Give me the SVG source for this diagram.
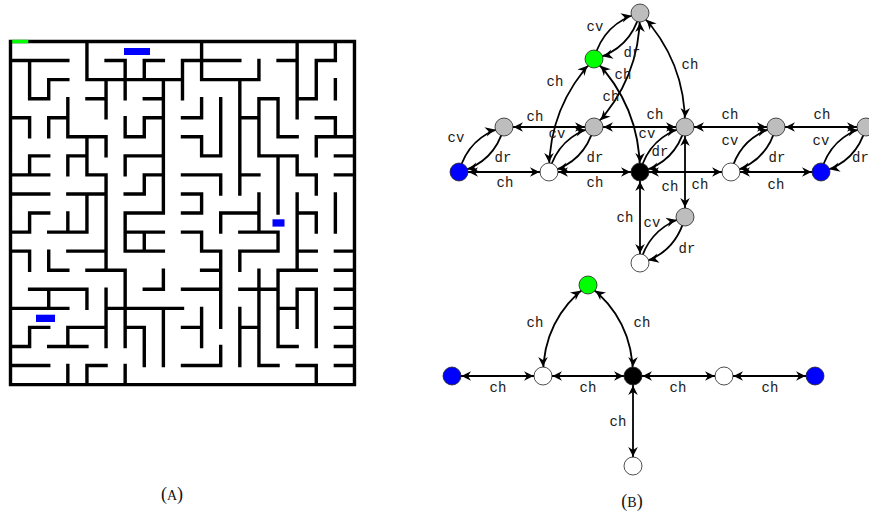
<svg xmlns="http://www.w3.org/2000/svg" width="869" height="514" viewBox="0 0 869 514">
<style>
.wall{fill:none;stroke:#000;stroke-width:3.4;stroke-linecap:square;vector-effect:non-scaling-stroke}
.goal{fill:#0000ff}
.e{fill:none;stroke:#000;stroke-width:1.8}
.b{marker-start:url(#ah);marker-end:url(#ah)}
.s{marker-end:url(#ah)}
.n{stroke:#222;stroke-width:0.8}
.gray{fill:#bdbdbd}.green{fill:#00ff00}.blue{fill:#0000ff}.white{fill:#fff}.black{fill:#000}
.lb{font-family:"Liberation Mono","DejaVu Sans Mono",monospace;font-size:14px;fill:#1a1a1a;text-anchor:middle}
.cap{font-family:"Liberation Serif","DejaVu Serif",serif;font-size:18px;fill:#111;text-anchor:middle}
</style>
<defs>
<marker id="ah" markerUnits="userSpaceOnUse" orient="auto-start-reverse" viewBox="-30 -15 30 30" markerWidth="30" markerHeight="30" refX="0" refY="0" overflow="visible">
<path d="M-9.5,0 L-19,-4.8 L-16,0 L-19,4.8 Z" fill="#000"/>
</marker>
</defs>
<rect width="869" height="514" fill="#fff"/>

<g id="maze">
<path class="wall" transform="translate(10.5,41.5) scale(19.11,19.06)" d="M0 0H18V18H0Z
M4 0V2H9 M0 1H3 M1 1V3H2V2H3 M5 1H6V2 M8 1H7V2 M5 2V4 M6 2V3 M8 2V9
M3 3V4 M4 3H5 M7 3H8
M0 4H1V5 M2 4H3 M2 4V5 M3 4V5 M6 4V5H7V4 M7 4H8
M3 5H5 M4 5V7 M5 5V6
M2 6H1V7 M4 6H3V7 M8 6H6V7
M0 7H2 M4 7H5 M8 7H7V8 M5 7V9
M0 8H2 M3 8H5 M4 8V9 M6 8H7
M2 9H1V10 M3 9V10 M2 10H4 M4 9V10 M5 9V12 M6 9H8 M6 9V11 M6 10H8 M7 10V11
M0 10H1 M0 11H1 M3 11H5 M6 11H8 M1 11V12 M2 11V12 M2 12H3 M4 12H6 M8 12V13
M1 13H4 M7 13H8 M2 13V14 M4 13V14 M5 13V16 M6 12V14
M0 14H3 M5 14H9 M1 15H2 M1 15V16 M3 15H5 M3 15V16 M6 15H7 M6 14V16 M7 15V17 M8 14V17
M0 16H1 M2 16H4 M0 17H2 M3 17V18 M4 17H5 M4 17V18 M6 17V18
M10 0V2 M10 1H9V3 M10 1H12 M13 1V2 M10 2H13 M14 1H15 M15 0V4 M15 3H16 M16 1V3 M16 1H17 M17 0V1 M17 2V3
M12 2V8 M11 3V6 M10 3V4H9 M12 4H13 M13 3V5 M13 3H14 M14 3V5 M14 5H15
M16 4H17V5 M16 5V6 M16 5H18 M9 5H10V6H11 M9 7H11V8 M9 8H10V9 M11 9H13
M13 5V6H15 M14 6V9 M15 6V7H16V8 M12 7H13 M13 8V9 M17 6H18 M17 7H18 M17 8V10 M15 8V9
M9 9H10 M11 9V10 M13 9V10 M15 9H16V10 M15 9V12
M9 10H10V11H11 M12 10H14V11 M12 11H14 M15 11H16 M17 11H18 M12 11V12 M11 11V15
M10 12H11 M14 12H16 M17 12H18 M13 12V17 M14 12V16
M9 13H11 M12 13H14 M15 13H16 M17 13H18 M16 13V16 M15 13V15
M10 14V16 M12 14V17 M14 14H15 M17 14H18 M9 15H10 M12 15H13 M17 15H18
M14 16H15 M17 16H18 M11 16V17 M9 17H11 M13 17H14 M15 17H16V18 M17 17H18"/>
<line x1="12.2" y1="41.5" x2="28.3" y2="41.5" stroke="#00ff00" stroke-width="3.4"/>
<rect class="goal" x="124" y="48" width="26" height="7"/>
<rect class="goal" x="272.5" y="219.3" width="12" height="7.3"/>
<rect class="goal" x="36" y="314.7" width="19" height="7.3"/>
</g>

<g id="connectors">
<path class="e s" d="M459 172Q468.5 136.5 504 127"/>
<path class="e s" d="M504 127Q494.5 162.5 459 172"/>
<path class="e s" d="M549 172Q558.5 136.5 594 127"/>
<path class="e s" d="M594 127Q584.5 162.5 549 172"/>
<path class="e s" d="M640 172Q649.5 136.5 685 127"/>
<path class="e s" d="M685 127Q675.5 162.5 640 172"/>
<path class="e s" d="M731 172Q740.5 136.5 776 127"/>
<path class="e s" d="M776 127Q766.5 162.5 731 172"/>
<path class="e s" d="M821 172Q830.5 136.5 866 127"/>
<path class="e s" d="M866 127Q856.5 162.5 821 172"/>
<path class="e s" d="M640 263Q649.5 227.5 685 217"/>
<path class="e s" d="M685 217Q675.5 253.5 640 263"/>
<path class="e s" d="M594 59Q603.7 22.7 640 13"/>
<path class="e s" d="M640 13Q630.3 49.3 594 59"/>
<path class="e b" d="M549 172Q549 106 594 59"/>
<path class="e b" d="M594 59Q640 106 640 172"/>
<path class="e b" d="M640 13Q640 79 594 127"/>
<path class="e b" d="M640 13Q686 61 685 127"/>
<path class="e b" d="M504 127H594"/>
<path class="e b" d="M594 127H685"/>
<path class="e b" d="M685 127H776"/>
<path class="e b" d="M776 127H866"/>
<path class="e b" d="M459 172H549"/>
<path class="e b" d="M549 172H640"/>
<path class="e b" d="M640 172H731"/>
<path class="e b" d="M731 172H821"/>
<path class="e b" d="M685 127V217"/>
<path class="e b" d="M640 172V263"/>
<path class="e b" d="M452 376H543"/>
<path class="e b" d="M543 376H633"/>
<path class="e b" d="M633 376H724"/>
<path class="e b" d="M724 376H815"/>
<path class="e b" d="M633 376V466"/>
<path class="e b" d="M543 376Q543 319 588 285"/>
<path class="e b" d="M588 285Q633 319 633 376"/>
<g id="edge-labels">
<text class="lb" x="456" y="142">cv</text>
<text class="lb" x="503" y="162">dr</text>
<text class="lb" x="557" y="138">cv</text>
<text class="lb" x="595" y="162">dr</text>
<text class="lb" x="647" y="138">cv</text>
<text class="lb" x="660" y="156">dr</text>
<text class="lb" x="730" y="145">cv</text>
<text class="lb" x="777" y="162">dr</text>
<text class="lb" x="821" y="145">cv</text>
<text class="lb" x="852" y="162" style="text-anchor:start">dr</text>
<text class="lb" x="652" y="227">cv</text>
<text class="lb" x="687" y="253">dr</text>
<text class="lb" x="595" y="31">cv</text>
<text class="lb" x="632" y="57">dr</text>
<text class="lb" x="505" y="187">ch</text>
<text class="lb" x="595" y="187">ch</text>
<text class="lb" x="700" y="189">ch</text>
<text class="lb" x="776" y="189">ch</text>
<text class="lb" x="535" y="121">ch</text>
<text class="lb" x="655" y="119">ch</text>
<text class="lb" x="730" y="119">ch</text>
<text class="lb" x="822" y="119">ch</text>
<text class="lb" x="670" y="191">ch</text>
<text class="lb" x="625" y="222">ch</text>
<text class="lb" x="555" y="86">ch</text>
<text class="lb" x="623" y="79">ch</text>
<text class="lb" x="611" y="101">ch</text>
<text class="lb" x="690" y="69">ch</text>
<text class="lb" x="498" y="392">ch</text>
<text class="lb" x="588" y="392">ch</text>
<text class="lb" x="678" y="392">ch</text>
<text class="lb" x="770" y="392">ch</text>
<text class="lb" x="618" y="426">ch</text>
<text class="lb" x="535" y="327">ch</text>
<text class="lb" x="642" y="327">ch</text>
</g>
</g>

<g id="node-T"><circle class="n gray" cx="640" cy="13" r="9"/></g>
<g id="node-G"><circle class="n green" cx="594" cy="59" r="9"/></g>
<g id="node-A1"><circle class="n gray" cx="504" cy="127" r="9"/></g>
<g id="node-A2"><circle class="n gray" cx="594" cy="127" r="9"/></g>
<g id="node-A3"><circle class="n gray" cx="685" cy="127" r="9"/></g>
<g id="node-A4"><circle class="n gray" cx="776" cy="127" r="9"/></g>
<g id="node-A5"><circle class="n gray" cx="866" cy="127" r="9"/></g>
<g id="node-B1"><circle class="n blue" cx="459" cy="172" r="9"/></g>
<g id="node-W1"><circle class="n white" cx="549" cy="172" r="9"/></g>
<g id="node-K"><circle class="n black" cx="640" cy="172" r="9"/></g>
<g id="node-W2"><circle class="n white" cx="731" cy="172" r="9"/></g>
<g id="node-B2"><circle class="n blue" cx="821" cy="172" r="9"/></g>
<g id="node-A6"><circle class="n gray" cx="685" cy="217" r="9"/></g>
<g id="node-W3"><circle class="n white" cx="640" cy="263" r="9"/></g>

<g id="node-g2"><circle class="n green" cx="588" cy="285" r="9"/></g>
<g id="node-b3"><circle class="n blue" cx="452" cy="376" r="9"/></g>
<g id="node-w4"><circle class="n white" cx="543" cy="376" r="9"/></g>
<g id="node-k2"><circle class="n black" cx="633" cy="376" r="9"/></g>
<g id="node-w5"><circle class="n white" cx="724" cy="376" r="9"/></g>
<g id="node-b4"><circle class="n blue" cx="815" cy="376" r="9"/></g>
<g id="node-w6"><circle class="n white" cx="633" cy="466" r="9"/></g>

<g id="captions">
<text class="cap" x="172" y="500">(<tspan font-size="14">A</tspan>)</text>
<text class="cap" x="632" y="507">(<tspan font-size="14">B</tspan>)</text>
</g>
</svg>
